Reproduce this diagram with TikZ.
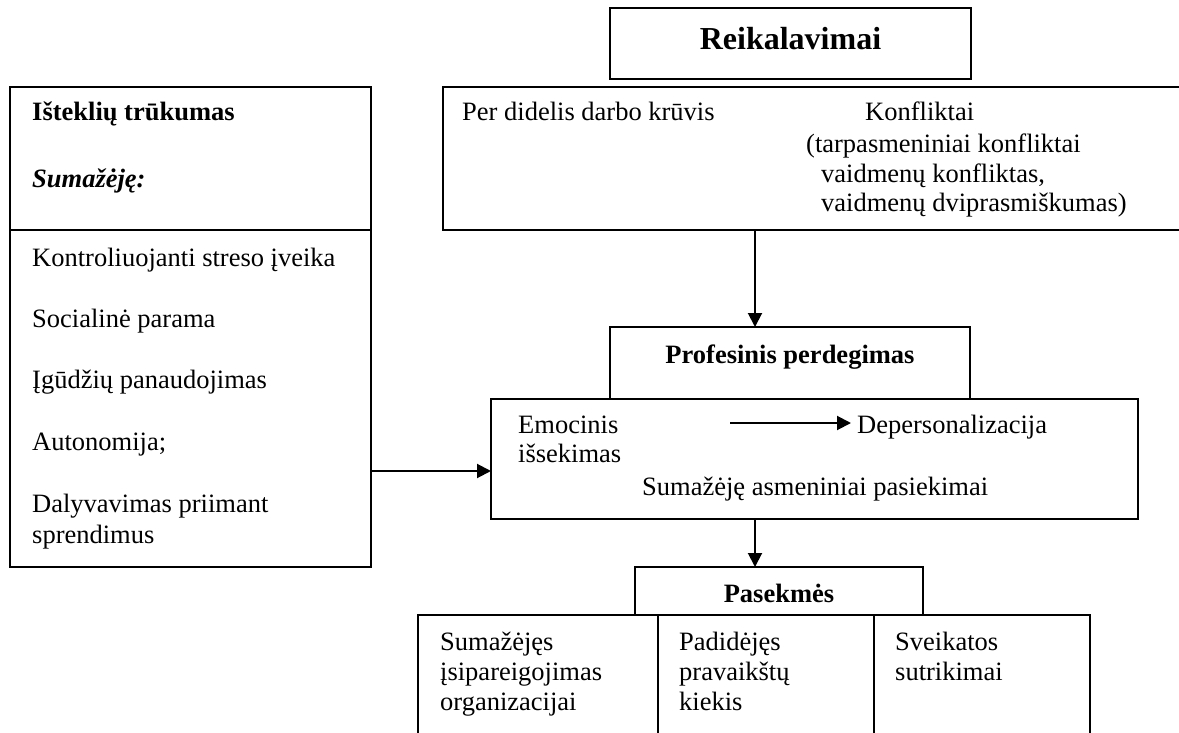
\documentclass[tikz,border=0pt]{standalone}
\usepackage{fontspec}
\setmainfont{Liberation Serif}
\usetikzlibrary{arrows.meta}
\begin{document}
\begin{tikzpicture}[x=1bp,y=-1bp,
  box/.style={draw, line width=2bp, inner sep=0pt, outer sep=0pt, anchor=north west},
  txt/.style={anchor=base west, inner sep=0pt, font=\fontsize{26.5bp}{30bp}\selectfont},
  btxt/.style={anchor=base, inner sep=0pt, font=\fontsize{26.5bp}{30bp}\selectfont\bfseries},
  arr/.style={line width=2bp, -{Triangle[length=14bp,width=14bp]}}]
\useasboundingbox (0,0) rectangle (1179,733);
\fill[white] (0,0) rectangle (1179,733);

% boxes
\node[box, minimum width=361bp, minimum height=71bp] (reik) at (610,8) {};
\node[box, line width=2.6bp, minimum width=760bp, minimum height=143bp] (req) at (443,87) {};
\node[box, minimum width=361bp, minimum height=143bp] (lefttop) at (9.5,87) {};
\node[box, minimum width=361bp, minimum height=337bp] (leftbot) at (9.5,230) {};
\node[box, minimum width=360bp, minimum height=72bp] (profup) at (610,327) {};
\node[box, minimum width=647bp, minimum height=120bp] (proflow) at (491,399) {};
\node[box, minimum width=288bp, minimum height=48bp] (pas) at (635,567) {};
\node[box, minimum width=240bp, minimum height=130bp] (c1) at (418,615) {};
\node[box, minimum width=216bp, minimum height=130bp] (c2) at (658,615) {};
\node[box, minimum width=216bp, minimum height=130bp] (c3) at (874,615) {};

% titles
\node[btxt, font=\fontsize{32bp}{36bp}\selectfont\bfseries] (reiktxt) at (790.5,50) {Reikalavimai};
\node[btxt] (proftxt) at (790,363) {Profesinis perdegimas};
\node[btxt] (pastxt) at (779,602) {Pasekmės};

% requirements texts
\node[txt] (r1) at (462,121) {Per didelis darbo krūvis};
\node[txt] (r2) at (865,121) {Konfliktai};
\node[txt] (r3) at (806,153) {(tarpasmeniniai konfliktai};
\node[txt] (r4) at (821,183) {vaidmenų konfliktas,};
\node[txt] (r5) at (821,212) {vaidmenų dviprasmiškumas)};

% left texts
\node[txt, font=\fontsize{26.5bp}{30bp}\selectfont\bfseries] (l1) at (32,121) {Išteklių trūkumas};
\node[txt, font=\fontsize{26.5bp}{30bp}\selectfont\bfseries\itshape] (l2) at (32,188) {Sumažėję:};
\node[txt] (l3) at (32,266) {Kontroliuojanti streso įveika};
\node[txt] (l4) at (32,327) {Socialinė parama};
\node[txt] (l5) at (32,388) {Įgūdžių panaudojimas};
\node[txt] (l6) at (32,450) {Autonomija;};
\node[txt] (l7) at (32,512) {Dalyvavimas priimant};
\node[txt] (l8) at (32,543) {sprendimus};

% burnout texts
\node[txt] (p1) at (518,433) {Emocinis};
\node[txt] (p2) at (518,462) {išsekimas};
\node[txt] (p3) at (857,433) {Depersonalizacija};
\node[txt] (p4) at (642,495) {Sumažėję asmeniniai pasiekimai};

% consequences texts
\node[txt] (s1) at (440,650) {Sumažėjęs};
\node[txt] (s2) at (440,680) {įsipareigojimas};
\node[txt] (s3) at (440,710) {organizacijai};
\node[txt] (s4) at (679,650) {Padidėjęs};
\node[txt] (s5) at (679,680) {pravaikštų};
\node[txt] (s6) at (679,710) {kiekis};
\node[txt] (s7) at (895,650) {Sveikatos};
\node[txt] (s8) at (895,680) {sutrikimai};

% connectors
\coordinate (ax) at (755,0);
\coordinate (ay) at (0,471);
\coordinate (ia1) at (730,423);
\coordinate (ia2) at (851,423);
\draw[arr] (req.south -| ax) -- (profup.north -| ax);
\draw[arr] (leftbot.east |- ay) -- (proflow.west |- ay);
\draw[arr] (proflow.south -| ax) -- (pas.north -| ax);
\draw[arr] (ia1) -- (ia2);
\end{tikzpicture}
\end{document}
